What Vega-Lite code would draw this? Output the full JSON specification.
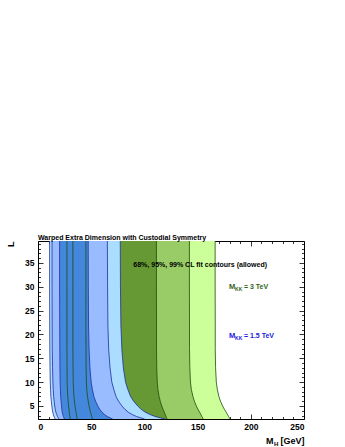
{
  "$schema": "https://vega.github.io/schema/vega-lite/v6.json",
  "width": 266,
  "height": 178,
  "autosize": "none",
  "padding": {"left": 38, "top": 241, "right": 41, "bottom": 28},
  "background": "white",
  "title": {"text": "Warped Extra Dimension with Custodial Symmetry", "anchor": "start", "frame": "group", "font": "Liberation Sans", "fontSize": 7, "fontWeight": "bold", "color": "black", "baseline": "alphabetic", "offset": -8},
  "config": {
    "view": {"stroke": "black", "strokeWidth": 1},
    "axis": {"domain": false, "grid": false, "tickColor": "black", "tickWidth": 0.8, "labelFont": "Liberation Sans", "labelFontWeight": "bold", "labelFontSize": 8.5, "labelColor": "black", "titleFont": "Liberation Sans", "titleFontWeight": "bold", "titleColor": "black"}
  },
  "datasets": {
    "bands": [
      {"c":"g99","L":2.27,"lo":30.2,"hi":180.5},{"c":"g99","L":2.5,"lo":30.1,"hi":179.9},{"c":"g99","L":2.8,"lo":29.9,"hi":179.1},{"c":"g99","L":3.2,"lo":29.7,"hi":178.1},{"c":"g99","L":3.7,"lo":29.4,"hi":176.9},{"c":"g99","L":4.3,"lo":29.1,"hi":175.2},{"c":"g99","L":5,"lo":28.7,"hi":173.5},{"c":"g99","L":6,"lo":28.3,"hi":171.5},{"c":"g99","L":7,"lo":28.0,"hi":170.0},{"c":"g99","L":8.5,"lo":27.6,"hi":168.5},{"c":"g99","L":10,"lo":27.4,"hi":167.6},{"c":"g99","L":13,"lo":27.3,"hi":166.9},{"c":"g99","L":17,"lo":27.2,"hi":166.6},{"c":"g99","L":22,"lo":27.2,"hi":166.6},{"c":"g99","L":30,"lo":27.2,"hi":166.5},{"c":"g99","L":39.6,"lo":27.2,"hi":166.5},
      {"c":"g95","L":2.27,"lo":36.8,"hi":155.3},{"c":"g95","L":2.5,"lo":36.6,"hi":154.8},{"c":"g95","L":2.8,"lo":36.4,"hi":154.0},{"c":"g95","L":3.2,"lo":36.1,"hi":153.1},{"c":"g95","L":3.7,"lo":35.8,"hi":151.9},{"c":"g95","L":4.3,"lo":35.3,"hi":150.4},{"c":"g95","L":5,"lo":34.8,"hi":148.8},{"c":"g95","L":6,"lo":34.2,"hi":147.0},{"c":"g95","L":7,"lo":33.8,"hi":145.6},{"c":"g95","L":8.5,"lo":33.4,"hi":144.1},{"c":"g95","L":10,"lo":33.1,"hi":143.3},{"c":"g95","L":13,"lo":32.9,"hi":142.7},{"c":"g95","L":17,"lo":32.8,"hi":142.4},{"c":"g95","L":22,"lo":32.8,"hi":142.4},{"c":"g95","L":30,"lo":32.8,"hi":142.3},{"c":"g95","L":39.6,"lo":32.8,"hi":142.3},
      {"c":"g68","L":2.27,"lo":51.0,"hi":121.3},{"c":"g68","L":2.5,"lo":50.8,"hi":120.9},{"c":"g68","L":2.8,"lo":50.4,"hi":120.3},{"c":"g68","L":3.2,"lo":50.0,"hi":119.6},{"c":"g68","L":3.7,"lo":49.4,"hi":118.7},{"c":"g68","L":4.3,"lo":48.7,"hi":117.5},{"c":"g68","L":5,"lo":48.0,"hi":116.3},{"c":"g68","L":6,"lo":47.2,"hi":114.9},{"c":"g68","L":7,"lo":46.5,"hi":113.8},{"c":"g68","L":8.5,"lo":45.8,"hi":112.7},{"c":"g68","L":10,"lo":45.5,"hi":112.1},{"c":"g68","L":13,"lo":45.2,"hi":111.6},{"c":"g68","L":17,"lo":45.1,"hi":111.4},{"c":"g68","L":22,"lo":45.0,"hi":111.4},{"c":"g68","L":30,"lo":45.0,"hi":111.3},{"c":"g68","L":39.6,"lo":45.0,"hi":111.3},
      {"c":"b99","L":2.27,"lo":16.2,"hi":119.3},{"c":"b99","L":2.5,"lo":15.7,"hi":115.1},{"c":"b99","L":2.8,"lo":15.0,"hi":110.1},{"c":"b99","L":3.2,"lo":14.4,"hi":105.4},{"c":"b99","L":3.7,"lo":13.9,"hi":100.8},{"c":"b99","L":4.3,"lo":13.4,"hi":97.0},{"c":"b99","L":5,"lo":13.0,"hi":93.7},{"c":"b99","L":6,"lo":12.5,"hi":89.9},{"c":"b99","L":7,"lo":12.1,"hi":87.0},{"c":"b99","L":8.5,"lo":11.8,"hi":84.4},{"c":"b99","L":10,"lo":11.5,"hi":82.3},{"c":"b99","L":13,"lo":11.3,"hi":80.2},{"c":"b99","L":17,"lo":11.1,"hi":78.8},{"c":"b99","L":22,"lo":11.0,"hi":77.9},{"c":"b99","L":30,"lo":10.9,"hi":77.5},{"c":"b99","L":39.6,"lo":10.9,"hi":77.3},
      {"c":"b95","L":2.27,"lo":19.7,"hi":100.2},{"c":"b95","L":2.5,"lo":19.1,"hi":96.7},{"c":"b95","L":2.8,"lo":18.3,"hi":92.5},{"c":"b95","L":3.2,"lo":17.6,"hi":88.7},{"c":"b95","L":3.7,"lo":16.8,"hi":84.8},{"c":"b95","L":4.3,"lo":16.3,"hi":81.7},{"c":"b95","L":5,"lo":15.7,"hi":78.9},{"c":"b95","L":6,"lo":15.2,"hi":75.7},{"c":"b95","L":7,"lo":14.7,"hi":73.3},{"c":"b95","L":8.5,"lo":14.3,"hi":71.2},{"c":"b95","L":10,"lo":14.0,"hi":69.4},{"c":"b95","L":13,"lo":13.7,"hi":67.7},{"c":"b95","L":17,"lo":13.4,"hi":66.4},{"c":"b95","L":22,"lo":13.3,"hi":65.7},{"c":"b95","L":30,"lo":13.2,"hi":65.4},{"c":"b95","L":39.6,"lo":13.2,"hi":65.2},
      {"c":"b68","L":2.27,"lo":24.8,"hi":70.2},{"c":"b68","L":2.5,"lo":24.4,"hi":67.9},{"c":"b68","L":2.8,"lo":23.8,"hi":65.1},{"c":"b68","L":3.2,"lo":23.3,"hi":62.6},{"c":"b68","L":3.7,"lo":22.8,"hi":60.1},{"c":"b68","L":4.3,"lo":22.4,"hi":58.0},{"c":"b68","L":5,"lo":22.1,"hi":56.2},{"c":"b68","L":6,"lo":21.7,"hi":54.1},{"c":"b68","L":7,"lo":21.3,"hi":52.5},{"c":"b68","L":8.5,"lo":21.1,"hi":51.1},{"c":"b68","L":10,"lo":20.8,"hi":50.0},{"c":"b68","L":13,"lo":20.6,"hi":48.8},{"c":"b68","L":17,"lo":20.5,"hi":48.0},{"c":"b68","L":22,"lo":20.4,"hi":47.5},{"c":"b68","L":30,"lo":20.3,"hi":47.3},{"c":"b68","L":39.6,"lo":20.3,"hi":47.2}
    ],
    "notes": [
      {"part":"head","t":"68%, 95%, 99% CL fit contours (allowed)","x":89.6,"L":34.6,"k":"k"},
      {"part":"M","t":"M","x":179.5,"L":30.0,"k":"g"},
      {"part":"sub","t":"KK","x":185.2,"L":30.0,"k":"g"},
      {"part":"rest","t":"= 3 TeV","x":193.6,"L":30.0,"k":"g"},
      {"part":"M","t":"M","x":179.5,"L":19.7,"k":"b"},
      {"part":"sub","t":"KK","x":185.2,"L":19.7,"k":"b"},
      {"part":"rest","t":"= 1.5 TeV","x":193.6,"L":19.7,"k":"b"}
    ]
  },
  "resolve": {"axis": {"x": "independent", "y": "independent"}},
  "layer": [
    {
      "data": {"name": "bands"},
      "mark": {"type": "area", "orient": "horizontal"},
      "encoding": {
        "y": {"field": "L", "type": "quantitative", "scale": {"domain": [2.27, 39.6], "nice": false, "zero": false},
              "axis": {"orient": "left", "values": [5,10,15,20,25,30,35], "tickSize": -5, "labelPadding": 9, "title": "L", "titleAngle": -90, "titleX": -25, "titleY": 0, "titleAlign": "right", "titleBaseline": "alphabetic", "titleFontSize": 9}},
        "x": {"field": "lo", "type": "quantitative", "stack": null, "scale": {"domain": [0, 250], "nice": false, "zero": false},
              "axis": {"orient": "bottom", "values": [0,50,100,150,200,250], "tickSize": -5, "labelPadding": 8, "title": "M", "titleX": 235, "titleY": 24, "titleAlign": "right", "titleBaseline": "alphabetic", "titleFontSize": 9}},
        "x2": {"field": "hi"},
        "fill": {"field": "c", "type": "nominal", "scale": {"domain": ["g99","g95","g68","b99","b95","b68"], "range": ["#ccff99","#99cc66","#669933","#aaddff","#99bbff","#4488dd"]}, "legend": null}
      }
    },
    {
      "data": {"name": "bands"},
      "mark": {"type": "line", "strokeWidth": 0.8},
      "encoding": {
        "y": {"field": "L", "type": "quantitative", "scale": {"domain": [2.27, 39.6], "nice": false, "zero": false},
              "axis": {"orient": "left", "values": [3,4,6,7,8,9,11,12,13,14,16,17,18,19,21,22,23,24,26,27,28,29,31,32,33,34,36,37,38,39], "tickSize": -2.5, "labels": false, "title": null}},
        "x": {"field": "lo", "type": "quantitative", "scale": {"domain": [0, 250], "nice": false, "zero": false},
              "axis": {"orient": "bottom", "values": [10,20,30,40,60,70,80,90,110,120,130,140,160,170,180,190,210,220,230,240], "tickSize": -2.5, "labels": false, "title": "H", "titleX": 235.5, "titleY": 26.5, "titleAlign": "left", "titleBaseline": "alphabetic", "titleFontSize": 6}},
        "order": {"field": "L", "type": "quantitative"},
        "stroke": {"field": "c", "type": "nominal", "scale": {"domain": ["g99","g95","g68","b99","b95","b68"], "range": ["#1f4a0a","#1f4a0a","#1f4a0a","#1d2fa0","#1d2fa0","#1d2fa0"]}, "legend": null}
      }
    },
    {
      "data": {"name": "bands"},
      "mark": {"type": "line", "strokeWidth": 0.8},
      "encoding": {
        "y": {"field": "L", "type": "quantitative", "scale": {"domain": [2.27, 39.6], "nice": false, "zero": false},
              "axis": {"orient": "right", "values": [5,10,15,20,25,30,35], "tickSize": -5, "labels": false, "title": null}},
        "x": {"field": "hi", "type": "quantitative", "scale": {"domain": [0, 250], "nice": false, "zero": false},
              "axis": {"orient": "top", "values": [0,50,100,150,200,250], "tickSize": -5, "labels": false, "title": "[GeV]", "titleX": 266, "titleY": 202, "titleAlign": "right", "titleBaseline": "alphabetic", "titleFontSize": 9}},
        "order": {"field": "L", "type": "quantitative"},
        "stroke": {"field": "c", "type": "nominal", "legend": null}
      }
    },
    {
      "data": {"name": "notes"},
      "transform": [{"filter": "datum.part === 'head'"}],
      "mark": {"type": "text", "align": "left", "baseline": "middle", "font": "Liberation Sans", "fontWeight": "bold", "fontSize": 7},
      "encoding": {
        "y": {"field": "L", "type": "quantitative", "scale": {"domain": [2.27, 39.6], "nice": false, "zero": false},
              "axis": {"orient": "right", "values": [3,4,6,7,8,9,11,12,13,14,16,17,18,19,21,22,23,24,26,27,28,29,31,32,33,34,36,37,38,39], "tickSize": -2.5, "labels": false, "title": null}},
        "x": {"field": "x", "type": "quantitative", "scale": {"domain": [0, 250], "nice": false, "zero": false},
              "axis": {"orient": "top", "values": [10,20,30,40,60,70,80,90,110,120,130,140,160,170,180,190,210,220,230,240], "tickSize": -2.5, "labels": false, "title": null}},
        "text": {"field": "t"},
        "color": {"field": "k", "type": "nominal", "scale": {"domain": ["k","g","b"], "range": ["#000000","#336619","#2222dd"]}, "legend": null}
      }
    },
    {
      "data": {"name": "notes"},
      "transform": [{"filter": "datum.part === 'M'"}],
      "mark": {"type": "text", "align": "left", "baseline": "middle", "font": "Liberation Sans", "fontWeight": "bold", "fontSize": 7.5},
      "encoding": {
        "y": {"field": "L", "type": "quantitative", "scale": {"domain": [2.27, 39.6], "nice": false, "zero": false}, "axis": null},
        "x": {"field": "x", "type": "quantitative", "scale": {"domain": [0, 250], "nice": false, "zero": false}, "axis": null},
        "text": {"field": "t"},
        "color": {"field": "k", "type": "nominal", "legend": null}
      }
    },
    {
      "data": {"name": "notes"},
      "transform": [{"filter": "datum.part === 'sub'"}],
      "mark": {"type": "text", "align": "left", "baseline": "middle", "font": "Liberation Sans", "fontWeight": "bold", "fontSize": 5, "dy": 2},
      "encoding": {
        "y": {"field": "L", "type": "quantitative", "scale": {"domain": [2.27, 39.6], "nice": false, "zero": false}, "axis": null},
        "x": {"field": "x", "type": "quantitative", "scale": {"domain": [0, 250], "nice": false, "zero": false}, "axis": null},
        "text": {"field": "t"},
        "color": {"field": "k", "type": "nominal", "legend": null}
      }
    },
    {
      "data": {"name": "notes"},
      "transform": [{"filter": "datum.part === 'rest'"}],
      "mark": {"type": "text", "align": "left", "baseline": "middle", "font": "Liberation Sans", "fontWeight": "bold", "fontSize": 7},
      "encoding": {
        "y": {"field": "L", "type": "quantitative", "scale": {"domain": [2.27, 39.6], "nice": false, "zero": false}, "axis": null},
        "x": {"field": "x", "type": "quantitative", "scale": {"domain": [0, 250], "nice": false, "zero": false}, "axis": null},
        "text": {"field": "t"},
        "color": {"field": "k", "type": "nominal", "legend": null}
      }
    }
  ]
}
